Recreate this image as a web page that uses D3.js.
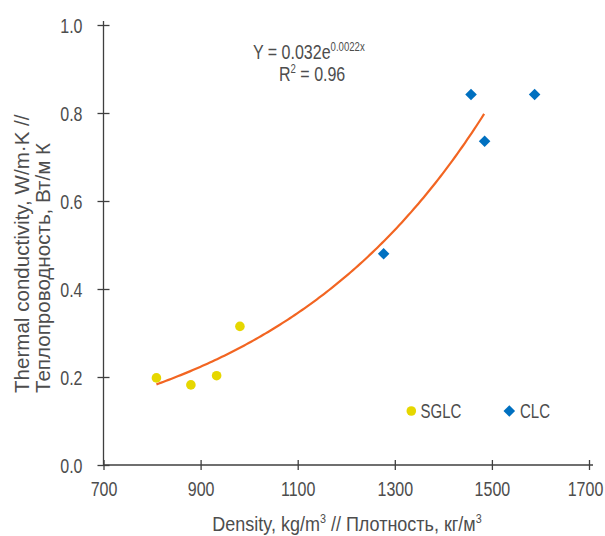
<!DOCTYPE html>
<html>
<head>
<meta charset="utf-8">
<script src="https://cdn.jsdelivr.net/npm/d3@7"></script>
<style>
  body { margin: 0; background: #fff; }
  svg text { font-family: "Liberation Sans", Arial, sans-serif; fill: #4d4d4d; }
</style>
</head>
<body>
<div class="canvas"></div>
<script>
// data
var sglcDensity = [809, 880, 933, 981],
    sglcConductivity = [0.198, 0.182, 0.203, 0.315];
var clcDensity = [1277, 1457, 1485, 1588],
    clcConductivity = [0.48, 0.842, 0.736, 0.842];
var xTicks = [700, 900, 1100, 1300, 1500, 1700],
    yTicks = [0, 0.2, 0.4, 0.6, 0.8, 1.0];
// exponential trend Y = a*e^(k*x), drawn between these densities
var trendA = 0.0314, trendK = 0.00218,
    trendStart = 809, trendEnd = 1485;

var width = 605, height = 536;
var margin = {t:25,r:16,b:71,l:103.5};
var sx = 0.8; // squeeze text sideways, the original font is narrow
var fs = '20px', supFs = '12px';

var svg = d3.select('.canvas')
    .append('svg')
    .attr('width', width)
    .attr('height', height);

var x = d3.scaleLinear().domain([700, 1700]).range([margin.l, width - margin.r]);
var y = d3.scaleLinear().domain([0, 1]).range([height - margin.b, margin.t]);

var axisColor = '#3f3f3f';

function label(px, py, extra, squeeze){
    return svg.append('text')
        .attr('transform', 'translate(' + px + ',' + py + ')' + (extra || '') + ' scale(' + (squeeze || sx) + ',1)')
        .style('font-size', fs);
}

// x axis
var xAxis = svg.append('g')
    .attr('transform', 'translate(0,' + y(0) + ')')
    .call(d3.axisBottom(x).tickValues(xTicks).tickFormat(d3.format('d')).tickSizeOuter(0));
xAxis.select('.domain').remove();
xAxis.append('line')
    .attr('x1', x(700)).attr('x2', x(1700) + 4)
    .style('stroke', axisColor).style('stroke-width', 1.3);
xAxis.selectAll('.tick line')
    .attr('y1', -5).attr('y2', 5)
    .style('stroke', axisColor).style('stroke-width', 1.3);
xAxis.selectAll('.tick text')
    .attr('y', 31).attr('dy', 0)
    .attr('x', function(d){ return d === 1700 ? -4 / sx : 0; })
    .attr('transform', 'scale(' + sx + ',1)')
    .style('font-size', fs);

// y axis
var yAxis = svg.append('g')
    .attr('transform', 'translate(' + x(700) + ',0)')
    .call(d3.axisLeft(y).tickValues(yTicks).tickFormat(d3.format('.1f')).tickSizeOuter(0));
yAxis.select('.domain').remove();
yAxis.append('line')
    .attr('y1', y(0)).attr('y2', y(1) - 4)
    .style('stroke', axisColor).style('stroke-width', 1.3);
yAxis.selectAll('.tick line')
    .attr('x1', -6).attr('x2', 6)
    .style('stroke', axisColor).style('stroke-width', 1.3);
yAxis.selectAll('.tick text')
    .attr('x', -21 / sx).attr('dy', '0.36em')
    .attr('transform', 'scale(' + sx + ',1)')
    .style('font-size', fs);

// trend line
var trendPts = d3.range(trendStart, trendEnd + 1, 5).map(function(d){
    return [d, trendA * Math.exp(trendK * d)];
});
svg.append('path')
    .datum(trendPts)
    .attr('d', d3.line().x(function(d){ return x(d[0]); }).y(function(d){ return y(d[1]); }))
    .style('fill', 'none')
    .style('stroke', '#f26522')
    .style('stroke-width', 2.2);

// SGLC circles
svg.selectAll('.sglc')
    .data(sglcDensity)
    .enter().append('circle')
    .attr('class', 'sglc')
    .attr('cx', function(d){ return x(d); })
    .attr('cy', function(d,i){ return y(sglcConductivity[i]); })
    .attr('r', 4.8)
    .style('fill', '#e6d700');

// CLC diamonds
var diamond = d3.symbol().type(d3.symbolDiamond2).size(85);
svg.selectAll('.clc')
    .data(clcDensity)
    .enter().append('path')
    .attr('class', 'clc')
    .attr('d', diamond)
    .attr('transform', function(d,i){ return 'translate(' + x(d) + ',' + y(clcConductivity[i]) + ')'; })
    .style('fill', '#0070c0');

// legend
svg.append('circle').attr('cx', 411.3).attr('cy', 411).attr('r', 4.8).style('fill', '#e6d700');
label(420.5, 418, '', 0.75).text('SGLC');
svg.append('path').attr('d', diamond).attr('transform', 'translate(509.3,411)').style('fill', '#0070c0');
label(520, 418, '', 0.75).text('CLC');

// equation
var eq = label(253, 59);
eq.append('tspan').text('Y = 0.032e');
eq.append('tspan').attr('dy', -8).style('font-size', supFs).text('0.0022x');
var r2 = label(279, 81);
r2.append('tspan').text('R');
r2.append('tspan').attr('dy', -8).style('font-size', supFs).text('2');
r2.append('tspan').attr('dy', 8).text(' = 0.96');

// axis titles
label(347, 531, '', 0.9)
    .attr('text-anchor', 'middle')
    .html('Density, kg/m<tspan dy="-8" font-size="' + supFs + '">3</tspan><tspan dy="8"> // Плотность, кг/м</tspan><tspan dy="-8" font-size="' + supFs + '">3</tspan>');

var yTitle = label(0, 393, ' rotate(-90)', 0.98)
    .style('font-size', '21px');
yTitle.append('tspan').attr('x', 0).attr('y', 29).text('Thermal conductivity, W/m·K //');
yTitle.append('tspan').attr('x', 0).attr('y', 50).text('Теплопроводность, Вт/м К');
</script>
</body>
</html>
